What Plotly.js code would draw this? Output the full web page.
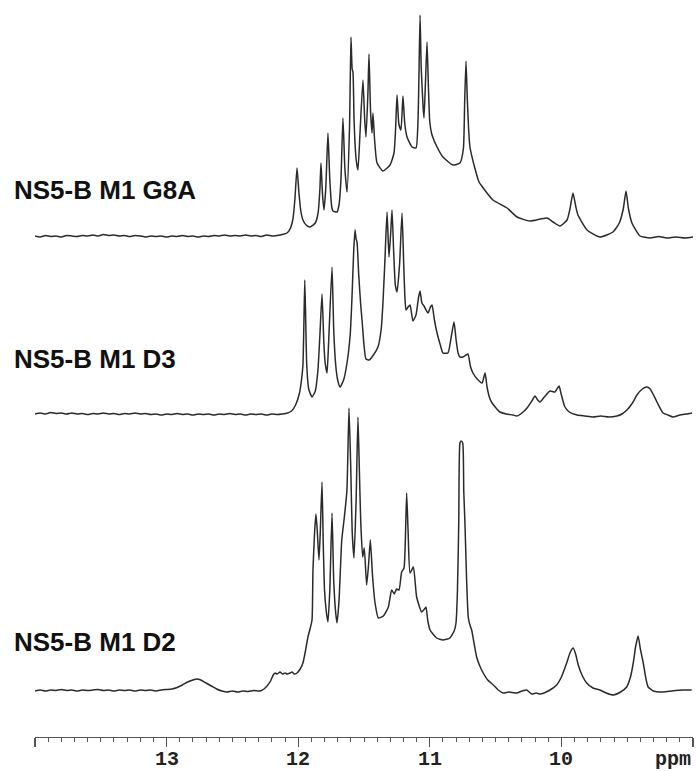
<!DOCTYPE html>
<html>
<head>
<meta charset="utf-8">
<script src="https://cdn.plot.ly/plotly-3.0.1.min.js"></script>
<style>html,body{margin:0;padding:0;background:#fff;}#chart{width:696px;height:771px;}</style>
</head>
<body>
<div id="chart"></div>
<script>
// Spectrum labels
const seriesNames = ["NS5-B M1 G8A", "NS5-B M1 D3", "NS5-B M1 D2"];

// [chemical shift (ppm), intensity (a.u.)]
const specG8A = [
[14.00,1],[13.96,0],[13.92,1.5],[13.88,0.5],[13.84,1],[13.80,0],[13.76,1.5],[13.72,1],[13.68,0.5],[13.64,1.5],
[13.60,1],[13.56,2],[13.52,1],[13.48,2.5],[13.44,1.5],[13.40,2],[13.36,1],[13.32,1.5],[13.28,0.5],[13.24,1.5],
[13.20,1],[13.16,0],[13.12,1],[13.08,0.5],[13.04,1],[13.00,0],[12.96,1],[12.92,0.5],[12.88,1.5],[12.84,0.5],
[12.80,1],[12.76,0],[12.72,1],[12.68,0.5],[12.64,1.5],[12.60,1],[12.56,2],[12.52,1],[12.48,1.5],[12.44,1],
[12.40,2],[12.36,1],[12.32,1.5],[12.28,0.5],[12.24,2],[12.20,1],[12.16,1.5],[12.12,2.5],[12.085,4],[12.062,8],
[12.04,18],[12.025,38],[12.009,69],[11.995,45],[11.98,26],[11.964,17],[11.94,12],[11.91,10],[11.87,14],[11.849,24],
[11.835,48],[11.827,74],[11.815,42],[11.804,27],[11.79,50],[11.774,104],[11.76,58],[11.745,30],[11.736,26],[11.705,25],
[11.69,32],[11.675,58],[11.66,119],[11.645,68],[11.629,45],[11.61,110],[11.599,200],[11.59,168],[11.584,165],[11.575,115],
[11.56,78],[11.546,67],[11.53,105],[11.508,157],[11.495,118],[11.485,100],[11.47,145],[11.462,183],[11.45,125],[11.439,104],
[11.432,124],[11.42,98],[11.401,74],[11.356,66],[11.302,72],[11.272,84],[11.26,108],[11.249,142],[11.235,113],[11.219,107],
[11.204,141],[11.19,113],[11.173,100],[11.135,90],[11.105,89],[11.09,115],[11.082,165],[11.074,222],[11.065,168],[11.05,128],
[11.044,119],[11.032,158],[11.021,195],[11.01,148],[11.0,115],[10.983,102],[10.945,90],[10.9,80],[10.824,72],[10.771,74],
[10.745,88],[10.735,135],[10.725,176],[10.715,138],[10.705,108],[10.695,90],[10.66,70],[10.626,55],[10.60,50],[10.52,37],
[10.413,29],[10.337,20],[10.239,16],[10.109,19],[10.064,15],[10.011,11],[9.957,17],[9.935,28],[9.912,44],[9.89,30],
[9.874,22],[9.805,7],[9.707,0],[9.608,5],[9.56,14],[9.53,28],[9.509,46],[9.49,28],[9.464,14],[9.403,1],
[9.327,-1],[9.26,0.5],[9.20,-1],[9.13,0],[9.06,-1],[9.0,0]
];

const specD3 = [
[14.00,1],[13.96,2],[13.92,1],[13.88,2.5],[13.84,1.5],[13.80,2],[13.76,1],[13.72,2],[13.68,1],[13.64,1.5],
[13.60,0.5],[13.56,1.5],[13.52,1],[13.48,2],[13.44,1],[13.40,1.5],[13.36,0.5],[13.32,1.5],[13.28,1],[13.24,2],
[13.20,1],[13.16,1.5],[13.12,0.5],[13.08,1],[13.04,0],[13.00,1],[12.96,0.5],[12.92,1.5],[12.88,0.5],[12.84,1],
[12.80,0],[12.76,1],[12.72,0.5],[12.68,1],[12.64,0],[12.60,1],[12.56,0.5],[12.52,1.5],[12.48,0.5],[12.44,1],
[12.40,0],[12.36,1],[12.32,0.5],[12.28,1],[12.24,0],[12.20,1],[12.16,0.5],[12.12,1],[12.08,2],[12.05,4],
[12.02,10],[11.99,22],[11.975,35],[11.964,50],[11.957,90],[11.95,135],[11.943,95],[11.935,50],[11.92,26],[11.895,18],
[11.87,24],[11.85,45],[11.835,80],[11.819,121],[11.805,72],[11.795,52],[11.781,42],[11.768,75],[11.743,148],[11.73,85],
[11.715,50],[11.70,35],[11.682,28],[11.655,35],[11.629,52],[11.605,80],[11.592,115],[11.578,165],[11.568,185],[11.56,176],
[11.553,173],[11.54,140],[11.525,110],[11.515,95],[11.50,70],[11.485,56],[11.46,55],[11.439,58],[11.394,68],[11.37,85],
[11.356,112],[11.34,158],[11.325,203],[11.31,158],[11.298,180],[11.287,205],[11.275,165],[11.262,130],[11.249,123],[11.23,150],
[11.211,202],[11.198,150],[11.19,120],[11.181,105],[11.165,108],[11.15,110],[11.128,94],[11.105,100],[11.085,118],[11.074,124],
[11.06,112],[11.044,109],[11.014,102],[10.995,108],[10.983,110],[10.965,95],[10.945,82],[10.92,70],[10.9,62],[10.862,62],
[10.835,80],[10.816,93],[10.80,75],[10.785,62],[10.771,58],[10.748,58],[10.725,60],[10.71,61],[10.69,48],[10.672,42],
[10.64,36],[10.603,32],[10.58,42],[10.565,28],[10.545,17],[10.527,12],[10.467,3],[10.42,1],[10.368,0],[10.337,-1],
[10.30,2],[10.261,7],[10.225,14],[10.201,19],[10.18,15],[10.163,13],[10.13,18],[10.087,24],[10.049,23],[10.018,29],
[10.0,20],[9.973,8],[9.94,3],[9.881,0],[9.82,-1],[9.76,-2],[9.70,-1],[9.64,-2],[9.578,-1],[9.54,1],
[9.502,5],[9.46,12],[9.426,20],[9.385,26],[9.35,28],[9.325,26],[9.304,21],[9.27,12],[9.228,2],[9.19,0],
[9.152,-2],[9.10,0],[9.05,1],[9.008,2]
];

const specD2 = [
[14.00,0],[13.96,1],[13.92,0],[13.88,1],[13.84,0.5],[13.80,1.5],[13.76,0.5],[13.72,1],[13.68,0],[13.64,1],
[13.60,0.5],[13.56,1],[13.52,1.5],[13.48,0.5],[13.44,1],[13.40,0],[13.36,1],[13.32,0.5],[13.28,1],[13.24,0],
[13.20,1],[13.16,0.5],[13.12,1],[13.08,0],[13.04,1],[13.00,1.5],[12.96,2],[12.92,3.5],[12.88,6],[12.84,9],
[12.80,11],[12.77,12],[12.74,11],[12.70,8],[12.66,5],[12.62,2],[12.58,0],[12.541,-1],[12.50,0],[12.46,-1],
[12.42,0],[12.38,-0.5],[12.34,0.5],[12.29,0],[12.26,2],[12.237,5],[12.21,10],[12.19,16],[12.176,18],[12.16,17],
[12.138,19],[12.12,17],[12.10,18],[12.085,17],[12.062,18],[12.047,19],[12.03,17],[12.009,18],[11.985,22],[11.964,28],
[11.945,40],[11.926,54],[11.91,62],[11.895,71],[11.888,120],[11.875,160],[11.865,177],[11.855,160],[11.842,131],[11.832,160],
[11.819,209],[11.81,150],[11.80,101],[11.787,80],[11.774,69],[11.76,100],[11.743,178],[11.73,110],[11.715,78],[11.705,68],
[11.69,90],[11.669,151],[11.65,173],[11.63,200],[11.614,283],[11.60,220],[11.59,160],[11.576,133],[11.56,190],[11.546,274],
[11.535,220],[11.525,170],[11.51,134],[11.498,143],[11.48,106],[11.466,125],[11.452,151],[11.435,115],[11.416,88],[11.391,73],
[11.353,75],[11.315,84],[11.29,101],[11.27,97],[11.252,102],[11.234,101],[11.214,119],[11.196,123],[11.186,150],[11.176,198],
[11.165,160],[11.15,118],[11.125,124],[11.10,94],[11.062,79],[11.04,82],[11.029,84],[11.015,70],[10.998,61],[10.948,53],
[10.90,51],[10.847,53],[10.815,60],[10.801,68],[10.79,100],[10.78,168],[10.771,248],[10.762,250],[10.75,248],[10.742,200],
[10.733,168],[10.72,110],[10.708,74],[10.695,66],[10.682,61],[10.664,48],[10.644,34],[10.62,25],[10.594,18],[10.56,11],
[10.517,6],[10.48,1],[10.442,-2],[10.40,-1],[10.34,-2],[10.30,0],[10.264,1],[10.245,-1],[10.226,-3],[10.19,-2],
[10.163,-3],[10.10,0],[10.036,6],[10.0,14],[9.96,28],[9.935,38],[9.91,43],[9.89,36],[9.872,26],[9.84,15],
[9.808,8],[9.76,3],[9.707,1],[9.66,-2],[9.606,-4],[9.55,-1],[9.504,4],[9.475,14],[9.454,28],[9.435,45],
[9.417,55],[9.40,42],[9.378,28],[9.36,14],[9.341,4],[9.30,0],[9.226,-1],[9.16,0],[9.08,1],[9.01,1]
];

// Axis ticks
const tickVals = [14, 13, 12, 11, 10, 9];
const tickText = ["", "13", "12", "11", "10", ""];
const unitLabel = "ppm";

// Vertical stacking offsets (layout), in intensity units
const stackOffsets = [500, 322, 46];
const labelY = [547, 378, 95];

const spectra = [specG8A, specD3, specD2];
const lineColor = "#2a2a2a";
const monoFont = "'Liberation Mono', 'Courier New', monospace";

const traces = spectra.map((s, i) => ({
  type: "scatter",
  mode: "lines",
  x: s.map(p => p[0]),
  y: s.map(p => p[1] + stackOffsets[i]),
  line: {color: lineColor, width: 1.5, shape: "spline", smoothing: 0.5},
  hoverinfo: "skip",
  name: seriesNames[i]
}));

const annotations = seriesNames.map((t, i) => ({
  text: t,
  xref: "paper", yref: "y",
  x: -23/658, y: labelY[i],
  xanchor: "left", yanchor: "middle",
  showarrow: false,
  font: {family: "Arial, 'Liberation Sans', sans-serif", size: 26, color: "#111", weight: "bold"}
}));
// tick labels placed at the tick values through the x scale
tickVals.forEach((v, i) => {
  if (!tickText[i]) return;
  annotations.push({
    text: tickText[i],
    xref: "x", yref: "paper",
    x: v, y: -22/737,
    xanchor: "center", yanchor: "middle",
    showarrow: false,
    font: {family: monoFont, size: 20, color: "#222", weight: "bold"}
  });
});
annotations.push({
  text: unitLabel,
  xref: "paper", yref: "paper",
  x: 1.0, y: -22/737,
  xanchor: "right", yanchor: "middle",
  showarrow: false,
  font: {family: monoFont, size: 20, color: "#222", weight: "bold"}
});

const layout = {
  width: 696, height: 771,
  margin: {l: 35, r: 3, t: 0, b: 34},
  paper_bgcolor: "#fff", plot_bgcolor: "#fff",
  showlegend: false,
  xaxis: {
    range: [14, 9],
    tickmode: "array", tickvals: tickVals, ticktext: ["", "", "", "", "", ""],
    ticks: "outside", ticklen: 9, tickwidth: 1.3, tickcolor: "#555",
    showline: true, linecolor: "#555", linewidth: 1.3,
    showgrid: false, zeroline: false,
    minor: {tickmode: "linear", tick0: 9, dtick: 0.1, ticks: "outside", ticklen: 4, tickwidth: 1, tickcolor: "#555", showgrid: false},
    fixedrange: true
  },
  yaxis: {range: [0, 737], visible: false, fixedrange: true},
  annotations: annotations
};

Plotly.newPlot("chart", traces, layout, {staticPlot: true, displayModeBar: false});
</script>
</body>
</html>
